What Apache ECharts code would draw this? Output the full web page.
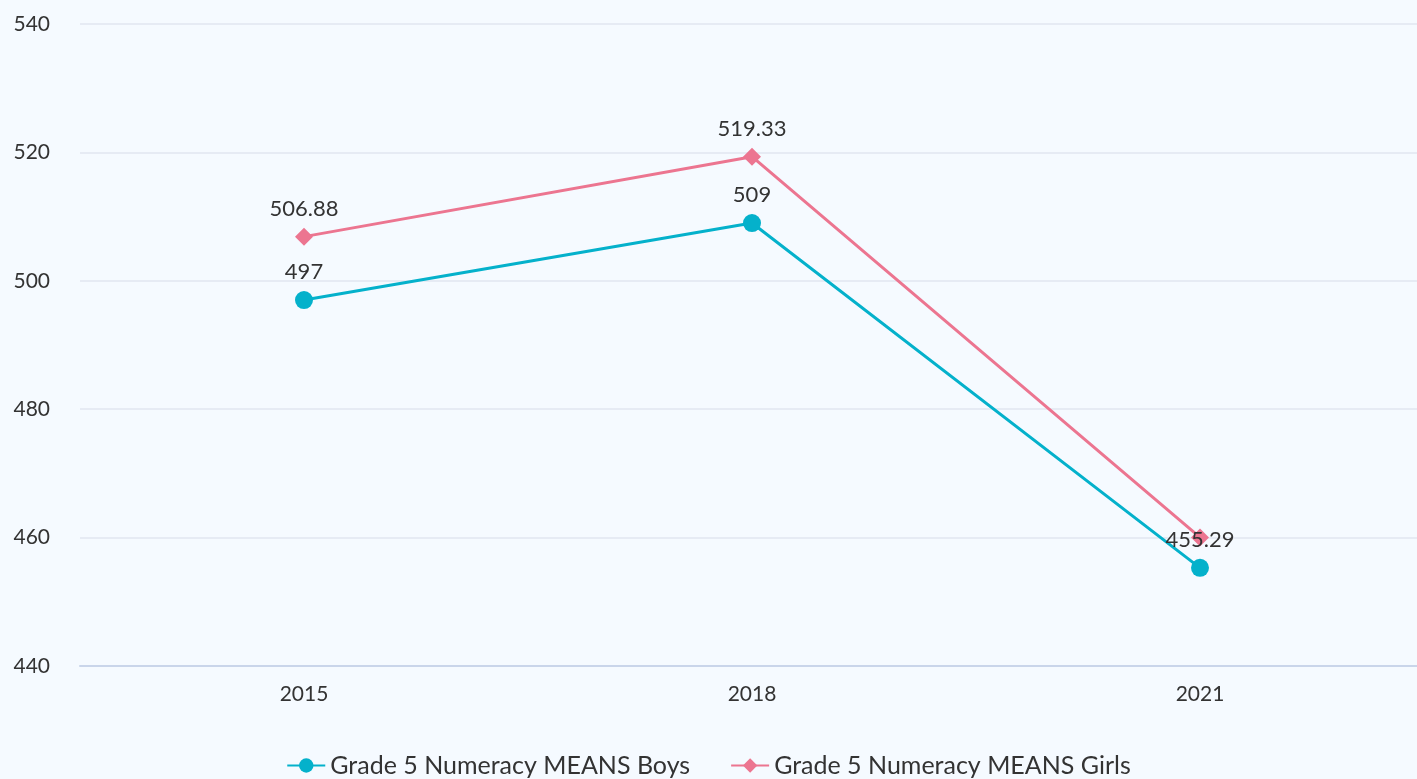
<!DOCTYPE html>
<html>
<head>
<meta charset="utf-8">
<script src="https://cdn.jsdelivr.net/npm/echarts@6/dist/echarts.min.js"></script>
<style>
html,body{margin:0;padding:0;background:#f5faff;}
#chart{width:1417px;height:779px;}
</style>
</head>
<body>
<div id="chart"></div>
<script>
const categories = ['2015', '2018', '2021'];
const boysName = 'Grade 5 Numeracy MEANS Boys';
const girlsName = 'Grade 5 Numeracy MEANS Girls';
const boysValues = [497, 509, 455.29];
const girlsValues = [506.88, 519.33, 460.02];
const girlsHiddenLabels = [false, false, true];
const yTicks = [440, 460, 480, 500, 520, 540];

const FONT = 'Lato';
const chart = echarts.init(document.getElementById('chart'));
chart.setOption({
  backgroundColor: '#f5faff',
  textStyle: { fontFamily: FONT },
  animation: false,
  grid: { left: 80, right: -7, top: 24, bottom: 113, outerBoundsMode: 'none', containLabel: false },
  legend: {
    bottom: -4,
    itemGap: 40,
    itemWidth: 38,
    itemHeight: 18,
    textStyle: { fontSize: 25, color: '#333', fontFamily: FONT },
    data: [boysName, girlsName]
  },
  xAxis: {
    type: 'category',
    data: categories,
    axisTick: { show: false },
    axisLine: { lineStyle: { color: '#c9d5ea', width: 2 } },
    axisLabel: { fontSize: 21, color: '#333', margin: 18, fontFamily: FONT }
  },
  yAxis: {
    type: 'value',
    min: yTicks[0],
    max: yTicks[yTicks.length - 1],
    interval: 20,
    axisLabel: { fontSize: 21, color: '#333', margin: 30, fontFamily: FONT },
    splitLine: { lineStyle: { color: '#e0e6f1', width: 1.5 } }
  },
  series: [
    {
      name: boysName,
      type: 'line',
      data: boysValues,
      symbol: 'circle',
      symbolSize: 18,
      itemStyle: { color: '#04b1cb' },
      lineStyle: { width: 3, color: '#04b1cb' },
      label: { show: true, position: 'top', distance: 8, fontSize: 22, color: '#333', fontFamily: FONT },
      z: 3
    },
    {
      name: girlsName,
      type: 'line',
      data: girlsValues.map((v, i) => ({ value: v, label: { show: !girlsHiddenLabels[i] } })),
      symbol: 'diamond',
      symbolSize: 18,
      itemStyle: { color: '#ec7590' },
      lineStyle: { width: 3, color: '#ec7590' },
      label: { show: true, position: 'top', distance: 8, fontSize: 22, color: '#333', fontFamily: FONT },
      z: 2
    }
  ]
});
</script>
</body>
</html>
